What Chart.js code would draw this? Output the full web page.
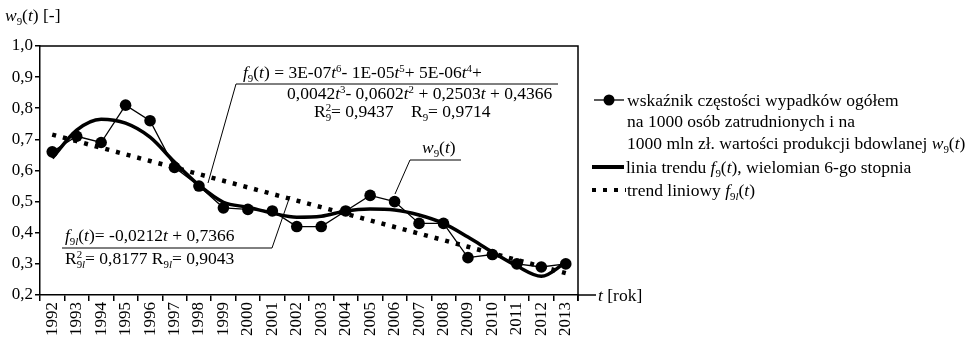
<!DOCTYPE html>
<html lang="pl">
<head>
<meta charset="utf-8">
<title>Wskaźnik częstości wypadków w9(t)</title>
<script src="https://cdn.jsdelivr.net/npm/chart.js@4.4.1/dist/chart.umd.min.js"></script>
<style>
    html, body { margin: 0; padding: 0; background: #fff; }
    #wykres { display: block; }
</style>
</head>
<body>
<canvas id="wykres" width="970" height="337"></canvas>
<script>
// ==========================================
// DANE
// ==========================================
const lata = ['1992', '1993', '1994', '1995', '1996', '1997', '1998', '1999', '2000', '2001', '2002',
              '2003', '2004', '2005', '2006', '2007', '2008', '2009', '2010', '2011', '2012', '2013'];

// wskaźnik częstości wypadków w9(t)
const wskaznik = [0.66, 0.71, 0.69, 0.81, 0.76, 0.61, 0.55, 0.48, 0.475, 0.47, 0.42,
                  0.42, 0.47, 0.52, 0.50, 0.43, 0.43, 0.32, 0.33, 0.30, 0.29, 0.30];

// linia trendu f9(t), wielomian 6-go stopnia
const trendWielomian = [0.64, 0.73, 0.765, 0.752, 0.707, 0.627, 0.553, 0.498, 0.482, 0.463, 0.45,
                        0.453, 0.47, 0.476, 0.473, 0.457, 0.43, 0.386, 0.338, 0.293, 0.26, 0.305];

// trend liniowy f9l(t) = -0,0212t + 0,7366
const trendLiniowy = [0.7154, 0.6942, 0.6730, 0.6518, 0.6306, 0.6094, 0.5882, 0.5670, 0.5458, 0.5246, 0.5034,
                      0.4822, 0.4610, 0.4398, 0.4186, 0.3974, 0.3762, 0.3550, 0.3338, 0.3126, 0.2914, 0.2702];

const osYMin = 0.2;
const osYMax = 1.0;
const osYKrok = 0.1;

const CZCIONKA = '"Liberation Serif", "Times New Roman", serif';
const ROZMIAR = 17.5;
const ROZMIAR_OSI = 17;

// ==========================================
// TEKST Z INDEKSAMI (kursywa, indeks dolny/górny)
// ==========================================
// styl: 'n' zwykły, 'i' kursywa, 'd' indeks dolny, 'di' indeks dolny kursywą,
//       'g' indeks górny, 'st' indeks górny nad dolnym ("2|9")
function ustawCzcionke(ctx, styl, r) {
    const maly = styl !== 'n' && styl !== 'i';
    const kursywa = styl === 'i' || styl === 'di';
    ctx.font = (kursywa ? 'italic ' : '') + (maly ? r * 0.62 : r) + 'px ' + CZCIONKA;
}

function szerokoscCzesci(ctx, [tekst, styl], r) {
    ustawCzcionke(ctx, styl, r);
    if (styl === 'st') {
        const [g, d] = tekst.split('|');
        return Math.max(ctx.measureText(g).width, ctx.measureText(d).width);
    }
    return ctx.measureText(tekst).width;
}

function pisz(ctx, x, y, czesci, r = ROZMIAR) {
    ctx.save();
    ctx.fillStyle = '#000';
    ctx.textBaseline = 'alphabetic';
    ctx.textAlign = 'left';
    let px = x;
    czesci.forEach(cz => {
        const [tekst, styl] = cz;
        const w = szerokoscCzesci(ctx, cz, r);
        if (styl === 'st') {
            const [g, d] = tekst.split('|');
            ctx.fillText(g, px, y - r * 0.36);
            ctx.fillText(d, px, y + r * 0.2);
        } else if (styl === 'd' || styl === 'di') {
            ctx.fillText(tekst, px, y + r * 0.2);
        } else if (styl === 'g') {
            ctx.fillText(tekst, px, y - r * 0.36);
        } else {
            ctx.fillText(tekst, px, y);
        }
        px += w;
    });
    ctx.restore();
}

function linia(ctx, punkty, grubosc = 1) {
    ctx.save();
    ctx.strokeStyle = '#000';
    ctx.lineWidth = grubosc;
    ctx.beginPath();
    punkty.forEach(([x, y], i) => i ? ctx.lineTo(x, y) : ctx.moveTo(x, y));
    ctx.stroke();
    ctx.restore();
}

// ==========================================
// RAMKA, OPISY RÓWNAŃ I LEGENDA
// ==========================================
const opisy = {
    id: 'opisy',
    afterDraw(chart) {
        const ctx = chart.ctx;
        const { left, right, top, bottom } = chart.chartArea;

        // górna i prawa krawędź obszaru wykresu, przedłużenie osi t
        linia(ctx, [[left, top], [right, top], [right, bottom + 6]], 1.5);
        linia(ctx, [[right, bottom], [right + 18, bottom]], 1.5);

        // tytuły osi
        pisz(ctx, 5, 21, [['w', 'i'], ['9', 'd'], ['(', 'n'], ['t', 'i'], [') [-]', 'n']]);
        pisz(ctx, 598, 301, [['t', 'i'], [' [rok]', 'n']]);

        // równanie wielomianu 6-go stopnia
        pisz(ctx, 243, 78, [['f', 'i'], ['9', 'd'], ['(', 'n'], ['t', 'i'], [') = 3E-07', 'n'], ['t', 'i'], ['6', 'g'],
            ['- 1E-05', 'n'], ['t', 'i'], ['5', 'g'], ['+ 5E-06', 'n'], ['t', 'i'], ['4', 'g'], ['+', 'n']]);
        pisz(ctx, 287, 99, [['0,0042', 'n'], ['t', 'i'], ['3', 'g'], ['- 0,0602', 'n'], ['t', 'i'], ['2', 'g'],
            [' + 0,2503', 'n'], ['t', 'i'], [' + 0,4366', 'n']]);
        pisz(ctx, 314, 117, [['R', 'n'], ['2|9', 'st'], ['= 0,9437    R', 'n'], ['9', 'd'], ['= 0,9714', 'n']]);
        linia(ctx, [[208, 183], [236, 84], [558, 84]]);

        // opis serii danych
        pisz(ctx, 422, 153, [['w', 'i'], ['9', 'd'], ['(', 'n'], ['t', 'i'], [')', 'n']]);
        linia(ctx, [[395, 194], [410, 160], [461, 160]]);

        // równanie trendu liniowego
        pisz(ctx, 65, 241, [['f', 'i'], ['9', 'd'], ['l', 'di'], ['(', 'n'], ['t', 'i'], [')= -0,0212', 'n'], ['t', 'i'],
            [' + 0,7366', 'n']]);
        pisz(ctx, 65, 264, [['R', 'n'], ['2|9', 'st'], ['l', 'di'], ['= 0,8177 R', 'n'], ['9', 'd'], ['l', 'di'],
            ['= 0,9043', 'n']]);
        linia(ctx, [[62, 248], [272, 248], [290, 196]]);

        // legenda
        linia(ctx, [[594, 100], [624, 100]], 1.3);
        ctx.save();
        ctx.fillStyle = '#000';
        ctx.beginPath();
        ctx.arc(609, 100, 5.5, 0, Math.PI * 2);
        ctx.fill();
        ctx.restore();
        pisz(ctx, 627, 106, [['wskaźnik częstości wypadków ogółem', 'n']]);
        pisz(ctx, 627, 127, [['na 1000 osób zatrudnionych i na', 'n']]);
        pisz(ctx, 627, 149, [['1000 mln zł. wartości produkcji bdowlanej ', 'n'], ['w', 'i'], ['9', 'd'], ['(', 'n'],
            ['t', 'i'], [')', 'n']]);

        linia(ctx, [[592, 167], [624, 167]], 4);
        pisz(ctx, 626, 173, [['linia trendu ', 'n'], ['f', 'i'], ['9', 'd'], ['(', 'n'], ['t', 'i'],
            ['), wielomian 6-go stopnia', 'n']]);

        ctx.save();
        ctx.strokeStyle = '#000';
        ctx.lineWidth = 4;
        ctx.setLineDash([4, 7]);
        ctx.beginPath();
        ctx.moveTo(592, 190);
        ctx.lineTo(626, 190);
        ctx.stroke();
        ctx.restore();
        pisz(ctx, 627, 196, [['trend liniowy ', 'n'], ['f', 'i'], ['9', 'd'], ['l', 'di'], ['(', 'n'], ['t', 'i'],
            [')', 'n']]);
    }
};

// ==========================================
// WYKRES
// ==========================================
document.addEventListener('DOMContentLoaded', () => {
    const ctx = document.getElementById('wykres');
    if (!ctx) return;

    new Chart(ctx.getContext('2d'), {
        type: 'line',
        data: {
            labels: lata,
            datasets: [
                {
                    label: 'wskaźnik częstości wypadków ogółem',
                    data: wskaznik,
                    borderColor: '#000',
                    backgroundColor: '#000',
                    borderWidth: 1.3,
                    pointRadius: 5.8,
                    pointBackgroundColor: '#000',
                    pointBorderWidth: 0,
                    tension: 0,
                    order: 1
                },
                {
                    label: 'linia trendu f9(t)',
                    data: trendWielomian,
                    borderColor: '#000',
                    borderWidth: 3.5,
                    pointRadius: 0,
                    cubicInterpolationMode: 'monotone',
                    order: 2
                },
                {
                    label: 'trend liniowy f9l(t)',
                    data: trendLiniowy,
                    borderColor: '#000',
                    borderWidth: 4.5,
                    borderDash: [4, 7],
                    borderCapStyle: 'butt',
                    pointRadius: 0,
                    tension: 0,
                    order: 3
                }
            ]
        },
        options: {
            responsive: false,
            animation: false,
            devicePixelRatio: 1,
            layout: { padding: { top: 46, right: 392, left: 0, bottom: 0 } },
            plugins: {
                legend: { display: false },
                tooltip: { enabled: false }
            },
            scales: {
                x: {
                    type: 'category',
                    offset: true,
                    afterFit: s => { s.height = 42; },
                    grid: {
                        offset: true,
                        drawOnChartArea: false,
                        tickLength: 6,
                        color: '#000',
                        lineWidth: 1.5
                    },
                    border: { color: '#000', width: 1.5 },
                    ticks: {
                        autoSkip: false,
                        minRotation: 90,
                        maxRotation: 90,
                        padding: 1,
                        color: '#000',
                        font: { family: CZCIONKA, size: ROZMIAR_OSI }
                    }
                },
                y: {
                    min: osYMin,
                    max: osYMax,
                    afterFit: s => { s.width = 40; },
                    grid: {
                        drawOnChartArea: false,
                        tickLength: 5,
                        color: '#000',
                        lineWidth: 1.5
                    },
                    border: { color: '#000', width: 1.5 },
                    ticks: {
                        stepSize: osYKrok,
                        padding: 2,
                        color: '#000',
                        font: { family: CZCIONKA, size: ROZMIAR_OSI },
                        callback: v => v.toFixed(1).replace('.', ',')
                    }
                }
            }
        },
        plugins: [opisy]
    });
});
</script>
</body>
</html>
